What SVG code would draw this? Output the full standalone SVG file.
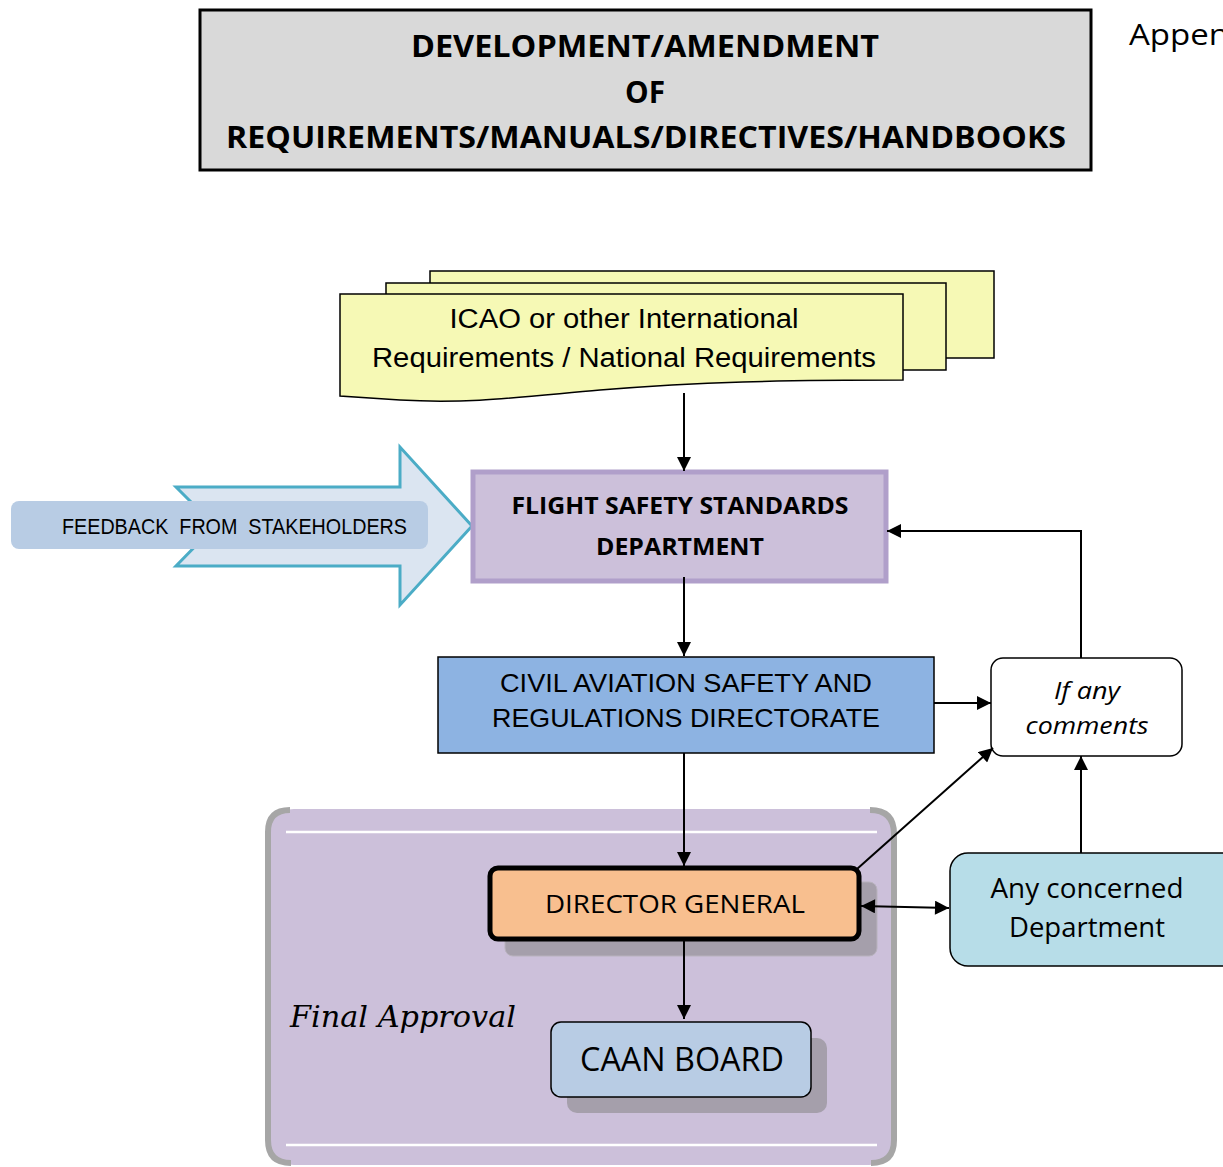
<svg xmlns="http://www.w3.org/2000/svg" width="1223" height="1167" viewBox="0 0 1223 1167">
<defs>
<marker id="ah2" viewBox="0 0 10 10" refX="10" refY="5" markerWidth="15" markerHeight="14" orient="auto-start-reverse" markerUnits="userSpaceOnUse">
<path d="M0,0 L10,5 L0,10 z" fill="#000"/>
</marker>
<style>
.sans{font-family:"Open Sans","Noto Sans","DejaVu Sans",sans-serif;}
.arial{font-family:"Liberation Sans",Arial,sans-serif;}
.conn{stroke:#000;stroke-width:2;fill:none;}
text{fill:#000;}
</style>
</defs>
<rect width="1223" height="1167" fill="#fff"/>

<g id="title">
<rect x="200" y="10" width="891" height="160" fill="#d9d9d9" stroke="#000" stroke-width="3"/>
<text class="sans" x="645" y="57" font-size="30" font-weight="bold" text-anchor="middle" textLength="468" lengthAdjust="spacingAndGlyphs">DEVELOPMENT/AMENDMENT</text>
<text class="sans" x="645" y="103" font-size="30" font-weight="bold" text-anchor="middle" textLength="40" lengthAdjust="spacingAndGlyphs">OF</text>
<text class="sans" x="646" y="148" font-size="30" font-weight="bold" text-anchor="middle" textLength="840" lengthAdjust="spacingAndGlyphs">REQUIREMENTS/MANUALS/DIRECTIVES/HANDBOOKS</text>
</g>
<text class="sans" x="1129" y="45" font-size="30" textLength="100" lengthAdjust="spacingAndGlyphs">Appen</text>

<g id="final-approval">
<rect x="268" y="809" width="627" height="356" rx="26" fill="#ccc0da"/>
<path d="M290,810 Q268,810 268,832 L268,1140 Q268,1163 291,1163" fill="none" stroke="#a6a6a6" stroke-width="6"/>
<path d="M870,810 Q894,810 894,834 L894,1140 Q894,1163 871,1163" fill="none" stroke="#a6a6a6" stroke-width="6"/>
<line x1="286" y1="832" x2="877" y2="832" stroke="#fff" stroke-width="2.5"/>
<line x1="286" y1="1145" x2="877" y2="1145" stroke="#fff" stroke-width="2.5"/>
<text x="290" y="1027" font-family="'DejaVu Serif','Liberation Serif',serif" font-style="italic" font-size="30" textLength="226" lengthAdjust="spacingAndGlyphs">Final Approval</text>
</g>

<g id="icao">
<rect x="430" y="271" width="564" height="87" fill="#f6f9b5" stroke="#000" stroke-width="1.5"/>
<rect x="386" y="283" width="560" height="87" fill="#f6f9b5" stroke="#000" stroke-width="1.5"/>
<path d="M340,294 L903,294 L903,380 C780,380 700,382 600,390 C520,397 470,404 400,400 C370,398 355,397 340,396 Z" fill="#f6f9b5" stroke="#000" stroke-width="1.5"/>
<text class="arial" x="624" y="328" font-size="27" text-anchor="middle" textLength="349" lengthAdjust="spacingAndGlyphs">ICAO or other International</text>
<text class="arial" x="624" y="367" font-size="27" text-anchor="middle" textLength="504" lengthAdjust="spacingAndGlyphs">Requirements / National Requirements</text>
</g>

<g id="feedback">
<polygon points="176,487 400,487 400,447 472,526 400,605 400,566 176,566 215,526" fill="#dbe5f1" stroke="#4bacc6" stroke-width="3" stroke-linejoin="miter"/>
<rect x="11" y="501" width="417" height="48" rx="8" fill="#b8cce4"/>
<text class="arial" x="62" y="534" font-size="22" style="white-space:pre" xml:space="preserve" textLength="345" lengthAdjust="spacingAndGlyphs">FEEDBACK  FROM  STAKEHOLDERS</text>
</g>

<g id="fssd">
<rect x="473" y="472" width="413" height="109" fill="#ccc0da" stroke="#b09fca" stroke-width="5"/>
<text class="sans" x="680" y="514" font-size="23" font-weight="bold" text-anchor="middle" textLength="337" lengthAdjust="spacingAndGlyphs">FLIGHT SAFETY STANDARDS</text>
<text class="sans" x="680" y="555" font-size="23" font-weight="bold" text-anchor="middle" textLength="168" lengthAdjust="spacingAndGlyphs">DEPARTMENT</text>
</g>

<g id="casrd">
<rect x="438" y="657" width="496" height="96" fill="#8db3e2" stroke="#000" stroke-width="1.5"/>
<text class="arial" x="686" y="692" font-size="25" text-anchor="middle" textLength="372" lengthAdjust="spacingAndGlyphs">CIVIL AVIATION SAFETY AND</text>
<text class="arial" x="686" y="727" font-size="25" text-anchor="middle" textLength="388" lengthAdjust="spacingAndGlyphs">REGULATIONS DIRECTORATE</text>
</g>

<g id="if-any">
<rect x="991" y="658" width="191" height="98" rx="12" fill="#fff" stroke="#000" stroke-width="1.5"/>
<text class="sans" x="1087" y="699" font-size="24" font-style="italic" text-anchor="middle" textLength="66" lengthAdjust="spacingAndGlyphs">If any</text>
<text class="sans" x="1087" y="734" font-size="24" font-style="italic" text-anchor="middle" textLength="123" lengthAdjust="spacingAndGlyphs">comments</text>
</g>

<g id="concerned">
<rect x="950" y="853" width="290" height="113" rx="18" fill="#b7dde8" stroke="#000" stroke-width="1.5"/>
<text class="sans" x="1087" y="898" font-size="27" text-anchor="middle" textLength="193" lengthAdjust="spacingAndGlyphs">Any concerned</text>
<text class="sans" x="1087" y="937" font-size="27" text-anchor="middle" textLength="156" lengthAdjust="spacingAndGlyphs">Department</text>
</g>

<g id="director-general">
<rect x="505" y="882" width="372" height="74" rx="8" fill="#a59fab" stroke="#b8b2bd" stroke-width="1"/>
<rect x="490" y="868" width="369" height="71" rx="8" fill="#f8bf8f" stroke="#000" stroke-width="5"/>
<text class="sans" x="675" y="913" font-size="26" text-anchor="middle" textLength="260" lengthAdjust="spacingAndGlyphs">DIRECTOR GENERAL</text>
</g>

<g id="caan-board">
<rect x="567" y="1038" width="260" height="75" rx="10" fill="#a59fab"/>
<rect x="551" y="1022" width="260" height="75" rx="10" fill="#b8cce4" stroke="#000" stroke-width="1.5"/>
<text class="sans" x="682" y="1071" font-size="32" text-anchor="middle" textLength="204" lengthAdjust="spacingAndGlyphs">CAAN BOARD</text>
</g>

<g id="connectors">
<line class="conn" x1="684" y1="393" x2="684" y2="471" marker-end="url(#ah2)"/>
<line class="conn" x1="684" y1="577" x2="684" y2="656" marker-end="url(#ah2)"/>
<line class="conn" x1="684" y1="753" x2="684" y2="866" marker-end="url(#ah2)"/>
<line class="conn" x1="684" y1="941" x2="684" y2="1019" marker-end="url(#ah2)"/>
<line class="conn" x1="934" y1="703" x2="991" y2="703" marker-end="url(#ah2)"/>
<polyline class="conn" points="1081,658 1081,531 887,531" marker-end="url(#ah2)"/>
<line class="conn" x1="1081" y1="853" x2="1081" y2="756" marker-end="url(#ah2)"/>
<line class="conn" x1="857" y1="869" x2="993" y2="748" marker-end="url(#ah2)"/>
<line class="conn" x1="861" y1="906" x2="949" y2="908" marker-start="url(#ah2)" marker-end="url(#ah2)"/>
</g>
</svg>
